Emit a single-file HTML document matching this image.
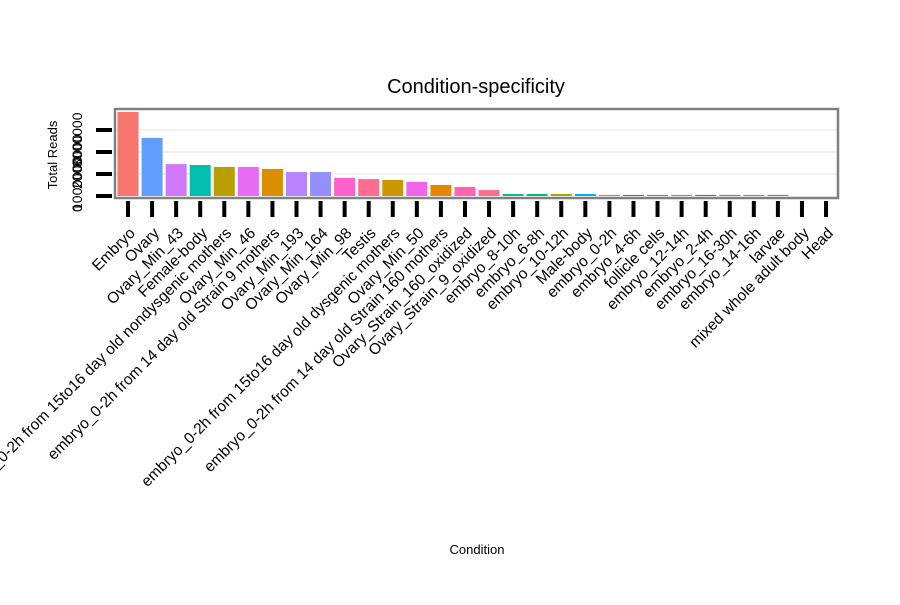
<!DOCTYPE html>
<html><head><meta charset="utf-8"><style>
body{margin:0;background:#fff;}
svg text{font-family:"Liberation Sans",sans-serif;}
</style></head><body>
<svg id="chart" width="900" height="600" xmlns="http://www.w3.org/2000/svg">
<text x="476" y="93" font-size="20" text-anchor="middle">Condition-specificity</text>
<text x="477" y="554" font-size="13" text-anchor="middle">Condition</text>
<text transform="translate(57,155) rotate(-90)" font-size="13" text-anchor="middle">Total Reads</text>
<g id="grid"></g><g id="bars"></g><g id="axes"></g>
<rect x="115" y="109" width="723" height="89" fill="none" stroke="#808080" stroke-width="2.5"/>
</svg>
<script>
const categories=["Embryo","Ovary","Ovary_Min_43","Female-body","embryo_0-2h from 15to16 day old nondysgenic mothers","Ovary_Min_46","embryo_0-2h from 14 day old Strain 9 mothers","Ovary_Min_193","Ovary_Min_164","Ovary_Min_98","Testis","embryo_0-2h from 15to16 day old dysgenic mothers","Ovary_Min_50","embryo_0-2h from 14 day old Strain 160 mothers","Ovary_Strain_160_oxidized","Ovary_Strain_9_oxidized","embryo_8-10h","embryo_6-8h","embryo_10-12h","Male-body","embryo_0-2h","embryo_4-6h","follicle cells","embryo_12-14h","embryo_2-4h","embryo_16-30h","embryo_14-16h","larvae","mixed whole adult body","Head"];
const values=[3820000,2640000,1450000,1410000,1320000,1320000,1230000,1090000,1090000,820000,770000,730000,640000,500000,410000,270000,90000,90000,90000,90000,50000,50000,50000,50000,50000,50000,50000,50000,0,0];
const colors=["#F8766D","#619CFF","#D078FA","#00BFAE","#B79F00","#E76BF3","#DB8E00","#B983FF","#9590FF","#FF61CC","#FF6C91","#C99800","#F066EA","#E58700","#FF64B0","#FD6F8B","#00C08B","#00BA7A","#A3A500","#00B0F6","#E7861B","#00A870","#00B4C4","#9CA700","#00A84E","#53B400","#7CAE00","#00A9FF","#00BCD8","#00BF7D"];
const yTicks=[0,1000000,2000000,3000000];
const yTickLabels=["0","1000000","2000000","3000000"];
const NS="http://www.w3.org/2000/svg";
const x0=128,dx=24.07,bw=21,base=196,pxPer=22/1000000;
const xs=i=>x0+i*dx, ys=v=>base-v*pxPer;
const gG=document.getElementById('grid'),bG=document.getElementById('bars'),aG=document.getElementById('axes');
function mk(t,a,p){const e=document.createElementNS(NS,t);for(const k in a)e.setAttribute(k,a[k]);p.appendChild(e);return e;}
yTicks.forEach((v,i)=>{
 if(v>0){const g=mk('line',{x1:116,x2:837,y1:ys(v),y2:ys(v),stroke:'#f2f2f2','stroke-width':2},gG);
 
 }
 const t=mk('line',{x1:96,x2:112,y1:ys(v),y2:ys(v),stroke:'#000','stroke-width':4},aG);
 
 
 const l=mk('text',{transform:`translate(82,${Math.min(212, ys(v)+37)}) rotate(-90)`,'font-size':14,'text-anchor':'start'},aG);
 l.textContent=yTickLabels[i];
 
 
});
categories.forEach((c,i)=>{
 const v=values[i];
 if(v>0){const r=mk('rect',{x:xs(i)-bw/2,y:ys(v),width:bw,height:base-ys(v),fill:colors[i]},bG);
 
 }
 const t=mk('line',{x1:xs(i),x2:xs(i),y1:201,y2:217,stroke:'#000','stroke-width':4},aG);
 
 
 const l=mk('text',{transform:`translate(${xs(i)+8},234) rotate(-45)`,'font-size':15.5,'text-anchor':'end'},aG);
 l.textContent=c;
 
 
});
</script>
</body></html>
